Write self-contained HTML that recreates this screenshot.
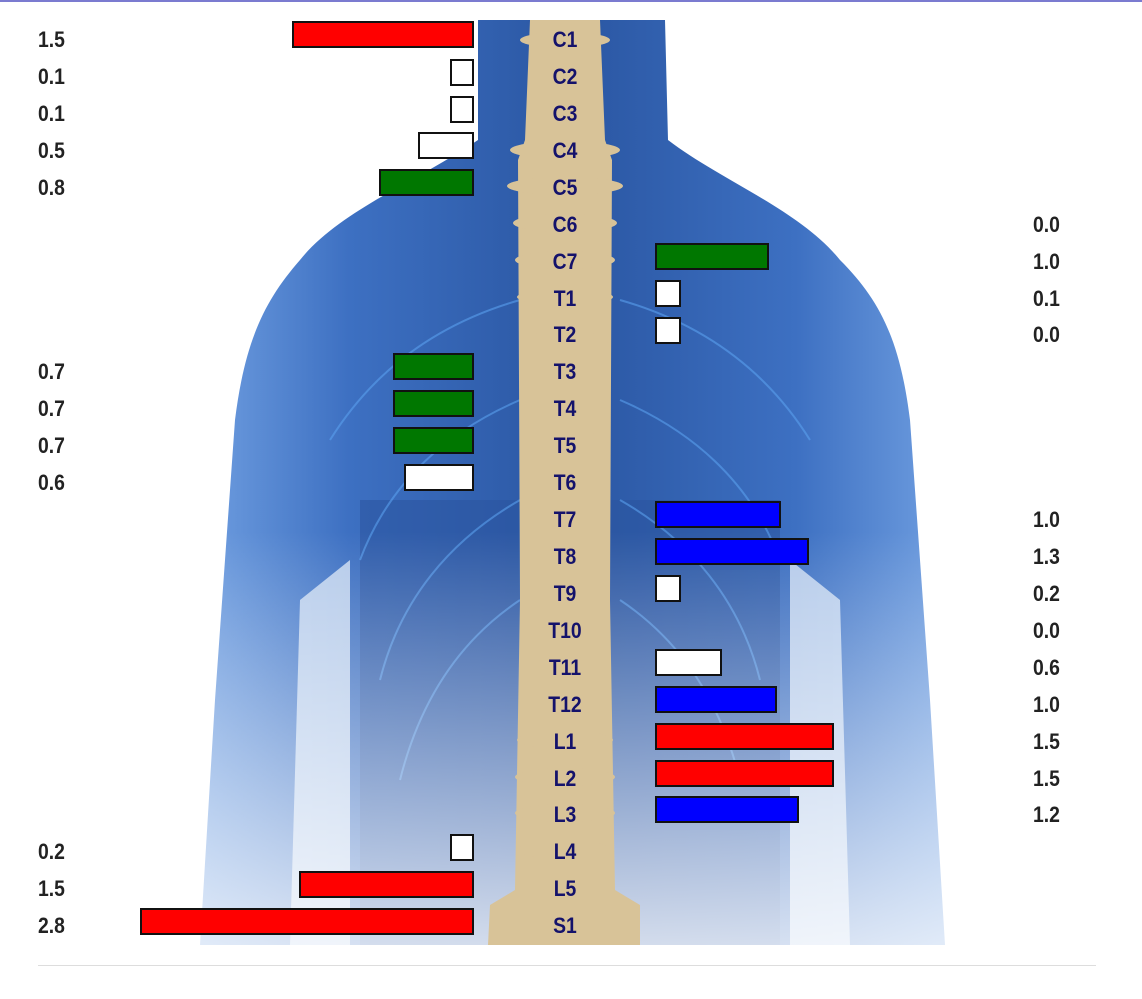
<!DOCTYPE html>
<html><head><style>
body{margin:0;width:1142px;height:999px;background:#fff;position:relative;overflow:hidden;font-family:"Liberation Sans",Arial,sans-serif}
.v{position:absolute;font-weight:bold;font-size:22px;color:#222;line-height:26px;margin-top:2px;transform:scaleX(0.88);transform-origin:left}
.s{position:absolute;left:515px;width:100px;text-align:center;font-weight:bold;font-size:22px;color:#14126b;line-height:26px;margin-top:2px;transform:scaleX(0.88)}
.b{position:absolute;height:23px;border:2px solid #111;box-sizing:content-box}
</style></head><body>
<div style="position:absolute;left:0;top:0;width:1142px;height:2px;background:#7b7bd0"></div>
<div style="position:absolute;left:38px;top:965px;width:1058px;height:1px;background:#ddd"></div>
<svg width="1142" height="999" style="position:absolute;left:0;top:0">
<defs>
<linearGradient id="fade" x1="0" y1="0" x2="0" y2="1">
<stop offset="0" stop-color="#fff" stop-opacity="0"/><stop offset="0.55" stop-color="#fff" stop-opacity="0"/><stop offset="1" stop-color="#fff" stop-opacity="0.8"/></linearGradient>
<linearGradient id="hb" x1="0" y1="0" x2="1" y2="0">
<stop offset="0" stop-color="#6f9ee0"/><stop offset="0.2" stop-color="#3d70c2"/><stop offset="0.5" stop-color="#2a56a2"/><stop offset="0.8" stop-color="#3d70c2"/><stop offset="1" stop-color="#6f9ee0"/></linearGradient>
</defs>
<path d="M478 20 L665 20 L668 140 C720 180 800 210 840 260 C880 300 900 340 910 420 L930 700 L945 945 L200 945 L215 700 L235 420 C245 340 265 300 300 260 C340 210 420 180 478 140 Z" fill="url(#hb)"/>
<path d="M350 560 L350 945 L290 945 L300 600Z M790 560 L790 945 L850 945 L840 600Z" fill="#d5e2f4" opacity="0.8"/>
<path d="M360 500 L360 945 L780 945 L780 500Z" fill="#2b55a0" opacity="0.6"/>
<g stroke="#5aa0ee" stroke-width="2" fill="none" opacity="0.6">
<path d="M520 300 C450 320 380 360 330 440"/><path d="M520 400 C450 430 390 480 360 560"/><path d="M520 500 C450 540 400 600 380 680"/><path d="M520 600 C460 640 420 700 400 780"/>
<path d="M620 300 C690 320 760 360 810 440"/><path d="M620 400 C690 430 750 480 780 560"/><path d="M620 500 C690 540 740 600 760 680"/><path d="M620 600 C680 640 720 700 740 780"/>
</g>
<rect x="190" y="20" width="770" height="930" fill="url(#fade)"/>
<path d="M530 20 L600 20 L605 140 L612 160 L610 600 L615 890 L640 905 L640 945 L488 945 L490 905 L515 890 L520 600 L518 160 L525 140Z" fill="#d8c398"/>
<g fill="#d8c398">
<ellipse cx="565" cy="40" rx="45" ry="8"/><ellipse cx="565" cy="150" rx="55" ry="9"/><ellipse cx="565" cy="186" rx="58" ry="9"/><ellipse cx="565" cy="223" rx="52" ry="9"/><ellipse cx="565" cy="260" rx="50" ry="9"/><ellipse cx="565" cy="297" rx="48" ry="8"/><ellipse cx="565" cy="340" rx="45" ry="8"/><ellipse cx="565" cy="440" rx="45" ry="8"/>
<ellipse cx="565" cy="740" rx="48" ry="9"/><ellipse cx="565" cy="777" rx="50" ry="9"/><ellipse cx="565" cy="813" rx="50" ry="9"/><ellipse cx="565" cy="850" rx="48" ry="9"/>
</g>
</svg>
<div class="v" style="left:38px;top:25px">1.5</div><div class="v" style="left:38px;top:62px">0.1</div><div class="v" style="left:38px;top:99px">0.1</div><div class="v" style="left:38px;top:136px">0.5</div><div class="v" style="left:38px;top:173px">0.8</div>
<div class="v" style="left:38px;top:357px">0.7</div><div class="v" style="left:38px;top:394px">0.7</div><div class="v" style="left:38px;top:431px">0.7</div><div class="v" style="left:38px;top:468px">0.6</div>
<div class="v" style="left:38px;top:837px">0.2</div><div class="v" style="left:38px;top:874px">1.5</div><div class="v" style="left:38px;top:911px">2.8</div>
<div class="v" style="left:1033px;top:210px">0.0</div><div class="v" style="left:1033px;top:247px">1.0</div><div class="v" style="left:1033px;top:284px">0.1</div><div class="v" style="left:1033px;top:320px">0.0</div>
<div class="v" style="left:1033px;top:505px">1.0</div><div class="v" style="left:1033px;top:542px">1.3</div><div class="v" style="left:1033px;top:579px">0.2</div><div class="v" style="left:1033px;top:616px">0.0</div><div class="v" style="left:1033px;top:653px">0.6</div><div class="v" style="left:1033px;top:690px">1.0</div><div class="v" style="left:1033px;top:727px">1.5</div><div class="v" style="left:1033px;top:764px">1.5</div><div class="v" style="left:1033px;top:800px">1.2</div>
<div class="s" style="top:25px">C1</div><div class="s" style="top:62px">C2</div><div class="s" style="top:99px">C3</div><div class="s" style="top:136px">C4</div><div class="s" style="top:173px">C5</div><div class="s" style="top:210px">C6</div><div class="s" style="top:247px">C7</div><div class="s" style="top:284px">T1</div><div class="s" style="top:320px">T2</div><div class="s" style="top:357px">T3</div><div class="s" style="top:394px">T4</div><div class="s" style="top:431px">T5</div><div class="s" style="top:468px">T6</div><div class="s" style="top:505px">T7</div><div class="s" style="top:542px">T8</div><div class="s" style="top:579px">T9</div><div class="s" style="top:616px">T10</div><div class="s" style="top:653px">T11</div><div class="s" style="top:690px">T12</div><div class="s" style="top:727px">L1</div><div class="s" style="top:764px">L2</div><div class="s" style="top:800px">L3</div><div class="s" style="top:837px">L4</div><div class="s" style="top:874px">L5</div><div class="s" style="top:911px">S1</div>
<div class="b" style="left:292px;top:21px;width:178px;background:#f00"></div>
<div class="b" style="left:450px;top:59px;width:20px;background:#fff"></div>
<div class="b" style="left:450px;top:96px;width:20px;background:#fff"></div>
<div class="b" style="left:418px;top:132px;width:52px;background:#fff"></div>
<div class="b" style="left:379px;top:169px;width:91px;background:#070"></div>
<div class="b" style="left:393px;top:353px;width:77px;background:#070"></div>
<div class="b" style="left:393px;top:390px;width:77px;background:#070"></div>
<div class="b" style="left:393px;top:427px;width:77px;background:#070"></div>
<div class="b" style="left:404px;top:464px;width:66px;background:#fff"></div>
<div class="b" style="left:450px;top:834px;width:20px;background:#fff"></div>
<div class="b" style="left:299px;top:871px;width:171px;background:#f00"></div>
<div class="b" style="left:140px;top:908px;width:330px;background:#f00"></div>
<div class="b" style="left:655px;top:243px;width:110px;background:#070"></div>
<div class="b" style="left:655px;top:280px;width:22px;background:#fff"></div>
<div class="b" style="left:655px;top:317px;width:22px;background:#fff"></div>
<div class="b" style="left:655px;top:501px;width:122px;background:#00f"></div>
<div class="b" style="left:655px;top:538px;width:150px;background:#00f"></div>
<div class="b" style="left:655px;top:575px;width:22px;background:#fff"></div>
<div class="b" style="left:655px;top:649px;width:63px;background:#fff"></div>
<div class="b" style="left:655px;top:686px;width:118px;background:#00f"></div>
<div class="b" style="left:655px;top:723px;width:175px;background:#f00"></div>
<div class="b" style="left:655px;top:760px;width:175px;background:#f00"></div>
<div class="b" style="left:655px;top:796px;width:140px;background:#00f"></div>
</body></html>
